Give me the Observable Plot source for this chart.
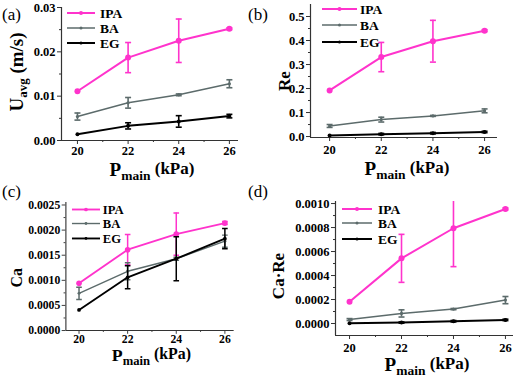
<!DOCTYPE html>
<html><head><meta charset="utf-8">
<script src="https://cdn.jsdelivr.net/npm/d3@7"></script>
<script src="https://cdn.jsdelivr.net/npm/@observablehq/plot@0.6"></script>
<style>
body{margin:0;background:#fff;}
#fig{position:relative;width:520px;height:377px;background:#fff;overflow:hidden;font-family:"Liberation Serif","Times New Roman",serif;}
.panel{position:absolute;overflow:hidden;}
.plabel{position:absolute;font-size:17px;line-height:1;color:#000;}
</style></head><body><div id="fig"></div>
<script>
// ---------- data ----------
const pressure = [20, 22, 24, 26];
const seriesNames = ["IPA", "BA", "EG"];
const seriesColors = ["#ff33cc", "#5c6b6b", "#000000"];
const xTickValues = [20, 22, 24, 26];
const xMinorTicks = [21, 23, 25];

// (a) Uavg (m/s)
const uavgIPA = [0.0111, 0.0187, 0.0225, 0.0252];
const uavgIPAErr = [0, 0.0034, 0.0049, 0.0002];
const uavgBA = [0.0054, 0.0085, 0.0103, 0.0128];
const uavgBAErr = [0.0008, 0.0012, 0.0002, 0.0009];
const uavgEG = [0.0014, 0.0033, 0.0043, 0.0055];
const uavgEGErr = [0, 0.0007, 0.0013, 0.0004];
const uavgTicks = [0, 0.01, 0.02, 0.03];
const uavgMinor = [0.005, 0.015, 0.025];

// (b) Re
const reIPA = [0.192, 0.331, 0.397, 0.441];
const reIPAErr = [0, 0.061, 0.087, 0.004];
const reBA = [0.044, 0.0705, 0.086, 0.107];
const reBAErr = [0.006, 0.01, 0.002, 0.008];
const reEG = [0.004, 0.010, 0.014, 0.019];
const reEGErr = [0, 0.003, 0.003, 0.003];
const reTicks = [0, 0.1, 0.2, 0.3, 0.4, 0.5];
const reMinor = [0.05, 0.15, 0.25, 0.35, 0.45];

// (c) Ca
const caIPA = [0.00094, 0.00161, 0.00192, 0.00214];
const caIPAErr = [0, 0.0003, 0.00042, 0.00003];
const caBA = [0.00074, 0.00118, 0.00143, 0.00178];
const caBAErr = [0.00012, 0.00017, 0.00003, 0.00012];
const caEG = [0.00041, 0.00106, 0.00143, 0.00183];
const caEGErr = [0, 0.00023, 0.00044, 0.0002];
const caTicks = [0, 0.0005, 0.0010, 0.0015, 0.0020, 0.0025];
const caMinor = [0.00025, 0.00075, 0.00125, 0.00175, 0.00225];

// (d) Ca·Re
const careIPA = [0.000181, 0.000543, 0.000794, 0.000955];
const careIPAErr = [0, 0.0002, 0.00032, 0.000008];
const careBA = [0.000033, 0.000084, 0.00012, 0.000195];
const careBAErr = [0.000008, 0.00003, 0.000005, 0.00003];
const careEG = [0.000002, 0.000008, 0.000019, 0.00003];
const careEGErr = [0, 0.000005, 0.000006, 0.000006];
const careTicks = [0, 0.0002, 0.0004, 0.0006, 0.0008, 0.0010];
const careMinor = [0.0001, 0.0003, 0.0005, 0.0007, 0.0009];

// ---------- layout ----------
const serif = "'Liberation Serif','Times New Roman',serif";
const axisColor = "#333";
const seriesStyle = [
  {lineWidth: 2, r: 3},
  {lineWidth: 1.5, r: 1.6},
  {lineWidth: 2, r: 2}
];
const capSymbol = {draw(ctx, size) { const w = Math.sqrt(size / Math.PI); ctx.moveTo(-w, 0); ctx.lineTo(w, 0); }};

const panels = [
  {label: "(a)", labelPos: [2, 6], left: 0, top: 0, width: 260, height: 188, clipWidth: 260,
   margin: [7, 22, 48, 61], xDomain: [19.37, 26.36], yDomain: [0, 0.03], xPad: 2,
   yTicks: uavgTicks, yMinor: uavgMinor, yFormat: d3.format(".2f"),
   values: [[uavgIPA, uavgIPAErr], [uavgBA, uavgBAErr], [uavgEG, uavgEGErr]],
   ylabel: [["U", 19, 0], ["avg", 13, 4], [" (m/s)", 19, -4]], ylabelPos: [17, 72],
   xlabelPos: [152, 176], legend: {x1: 67, x2: 95, tx: 100, ys: [13, 28, 43]}},
  {label: "(b)", labelPos: [248, 6], left: 260, top: 0, width: 260, height: 188, clipWidth: 260,
   margin: [4, 23, 51, 50], xDomain: [19.26, 26.5], yDomain: [-0.004, 0.55], xPad: 4,
   yTicks: reTicks, yMinor: reMinor, yFormat: d3.format(".1f"),
   values: [[reIPA, reIPAErr], [reBA, reBAErr], [reEG, reEGErr]],
   ylabel: [["Re", 17, 0]], ylabelPos: [24, 81],
   xlabelPos: [147, 175], legend: {x1: 62, x2: 97, tx: 100, ys: [9, 25, 42]}},
  {label: "(c)", labelPos: [2, 183], left: 0, top: 188, width: 260, height: 189, clipWidth: 243,
   margin: [15, 10, 37, 70], xDomain: [19.46, 26.38], yDomain: [0, 0.00255], xPad: 0,
   yTicks: caTicks, yMinor: caMinor, yFormat: d3.format(".4f"),
   values: [[caIPA, caIPAErr], [caBA, caBAErr], [caEG, caEGErr]],
   ylabel: [["Ca", 17, 0]], ylabelPos: [18, 96],
   xlabelPos: [162, 185], legend: {x1: 77, x2: 107, tx: 110, ys: [23, 38, 54]}},
  {label: "(d)", labelPos: [248, 183], left: 260, top: 188, width: 260, height: 189, clipWidth: 260,
   margin: [13, 7, 42, 75], xDomain: [19.46, 26.31], yDomain: [-0.0001, 0.001017], xPad: 4,
   yTicks: careTicks, yMinor: careMinor, yFormat: d3.format(".4f"),
   values: [[careIPA, careIPAErr], [careBA, careBAErr], [careEG, careEGErr]],
   ylabel: [["Ca·Re", 17, 0]], ylabelPos: [18, 88],
   xlabelPos: [167, 183], legend: {x1: 82, x2: 112, tx: 118, ys: [21, 35, 51]}}
];

const fig = document.getElementById("fig");

for (const p of panels) {
  const marks = [
    Plot.axisX({ticks: xTickValues, tickSize: 4, tickPadding: p.xPad, tickFormat: d => String(d), label: null, stroke: axisColor, fill: "#000"}),
    Plot.axisX({ticks: xMinorTicks, tickSize: 2, tickFormat: () => "", label: null, stroke: axisColor}),
    Plot.axisY({ticks: p.yTicks, tickSize: 4, tickPadding: 2, tickFormat: p.yFormat, label: null, stroke: axisColor, fill: "#000"}),
    Plot.axisY({ticks: p.yMinor, tickSize: 2, tickFormat: () => "", label: null, stroke: axisColor}),
    Plot.ruleX([p.xDomain[0]], {stroke: axisColor, strokeWidth: 1.2}),
    Plot.ruleY([p.yDomain[0]], {stroke: axisColor, strokeWidth: 1.2})
  ];
  p.values.forEach(([vals, errs], si) => {
    const data = pressure.map((x, i) => ({x, y: vals[i], err: errs[i]}));
    const errData = data.filter(d => d.err > 0);
    const color = seriesColors[si];
    const st = seriesStyle[si];
    marks.push(
      Plot.line(data, {x: "x", y: "y", stroke: color, strokeWidth: st.lineWidth}),
      Plot.ruleX(errData, {x: "x", y1: d => d.y - d.err, y2: d => d.y + d.err, stroke: color, strokeWidth: 1.6, clip: true}),
      Plot.dot(errData, {x: "x", y: d => d.y - d.err, symbol: capSymbol, r: 3, stroke: color, strokeWidth: 1.6, fill: "none", clip: true}),
      Plot.dot(errData, {x: "x", y: d => d.y + d.err, symbol: capSymbol, r: 3, stroke: color, strokeWidth: 1.6, fill: "none", clip: true}),
      Plot.dot(data, {x: "x", y: "y", r: st.r, fill: color, stroke: "none"})
    );
  });

  const svg = Plot.plot({
    width: p.width, height: p.height,
    marginTop: p.margin[0], marginRight: p.margin[1], marginBottom: p.margin[2], marginLeft: p.margin[3],
    x: {domain: p.xDomain}, y: {domain: p.yDomain},
    style: {fontFamily: serif, fontSize: "12.5px", fontWeight: "bold", color: "#000", background: "transparent", overflow: "visible"},
    marks
  });

  const s = d3.select(svg);
  // y label
  const yl = s.append("text")
    .attr("transform", `translate(${p.ylabelPos[0]},${p.ylabelPos[1]}) rotate(-90)`)
    .attr("text-anchor", "middle").attr("y", 6)
    .attr("font-family", serif).attr("font-weight", "bold").attr("fill", "#000");
  for (const [t, fs, dy] of p.ylabel) yl.append("tspan").attr("font-size", fs).attr("dy", dy).text(t);
  // x label
  const xl = s.append("text")
    .attr("x", p.xlabelPos[0]).attr("y", p.xlabelPos[1])
    .attr("text-anchor", "middle")
    .attr("font-family", serif).attr("font-weight", "bold").attr("fill", "#000");
  xl.append("tspan").attr("font-size", 19).text("P");
  xl.append("tspan").attr("font-size", 13.5).attr("dy", 4).text("main");
  xl.append("tspan").attr("font-size", 17).attr("dy", -6).text(" (kPa)");
  // legend
  const lg = p.legend;
  seriesNames.forEach((name, si) => {
    const y = lg.ys[si];
    s.append("line").attr("x1", lg.x1).attr("x2", lg.x2).attr("y1", y).attr("y2", y)
      .attr("stroke", seriesColors[si]).attr("stroke-width", seriesStyle[si].lineWidth);
    s.append("circle").attr("cx", (lg.x1 + lg.x2) / 2).attr("cy", y).attr("r", si === 0 ? 2 : 1.5)
      .attr("fill", seriesColors[si]);
    s.append("text").attr("x", lg.tx).attr("y", y).attr("dy", "0.35em")
      .attr("text-anchor", "start")
      .attr("font-family", serif).attr("font-weight", "bold").attr("font-size", 13.5)
      .attr("fill", "#000").text(name);
  });

  const holder = document.createElement("div");
  holder.className = "panel";
  holder.style.left = p.left + "px";
  holder.style.top = p.top + "px";
  holder.style.width = p.clipWidth + "px";
  holder.style.height = p.height + "px";
  holder.appendChild(svg);
  fig.appendChild(holder);

  const lab = document.createElement("div");
  lab.className = "plabel";
  lab.style.left = p.labelPos[0] + "px";
  lab.style.top = p.labelPos[1] + "px";
  lab.textContent = p.label;
  fig.appendChild(lab);
}
</script></body></html>
